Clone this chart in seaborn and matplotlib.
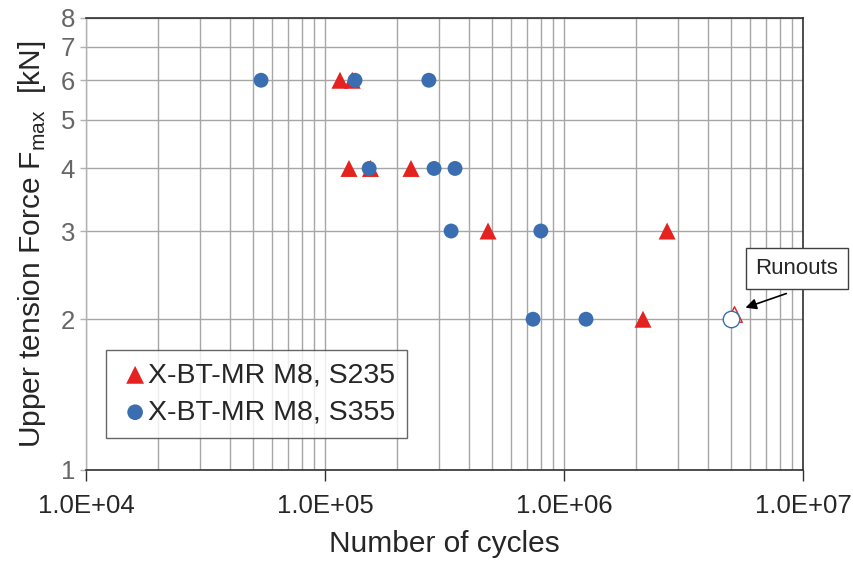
import numpy as np
import pandas as pd
import matplotlib
matplotlib.use('Agg')
import matplotlib.pyplot as plt
import matplotlib.ticker as mticker
import seaborn as sns

# Data
s235_cycles = [1.155e5, 1.30e5, 1.26e5, 1.55e5, 2.29e5, 4.81e5, 2.70e6, 2.14e6]
s235_force = [6, 6, 4, 4, 4, 3, 3, 2]
s355_cycles = [5.4e4, 1.335e5, 2.72e5, 1.53e5, 2.86e5, 3.5e5, 3.37e5, 8.0e5, 7.42e5, 1.236e6]
s355_force = [6, 6, 6, 4, 4, 4, 3, 3, 2, 2]
runout_s235_cycles = [5.13e6]
runout_s235_force = [2.05]
runout_s355_cycles = [5.0e6]
runout_s355_force = [2.0]

y_ticks = [1, 2, 3, 4, 5, 6, 7, 8]

red = '#e42320'
blue = '#3b6eb0'
grid_col = '#a6a6a6'

sns.set_style('white')
plt.rcParams['font.family'] = ['Liberation Sans', 'DejaVu Sans']

df235 = pd.DataFrame({'cycles': s235_cycles, 'force': s235_force})
df355 = pd.DataFrame({'cycles': s355_cycles, 'force': s355_force})

fig = plt.figure(figsize=(8.54, 5.63), dpi=100)
ax = fig.add_axes([0.1007, 0.1652, 0.8396, 0.8034])
ax.set_xscale('log')
ax.set_yscale('log')

sns.scatterplot(data=df235, x='cycles', y='force', marker='^', s=150, color=red,
                edgecolor='none', label='X-BT-MR M8, S235', ax=ax, zorder=3)
sns.scatterplot(data=df355, x='cycles', y='force', marker='o', s=115, color=blue,
                edgecolor='none', label='X-BT-MR M8, S355', ax=ax, zorder=4)

# runouts (open markers)
ax.scatter(runout_s235_cycles, runout_s235_force, marker='^', s=125, facecolor='white',
           edgecolor=red, linewidth=1, zorder=5)
ax.scatter(runout_s355_cycles, runout_s355_force, marker='o', s=140, facecolor='white',
           edgecolor=blue, linewidth=1, zorder=6)

ax.set_xlim(1e4, 1e7)
ax.set_ylim(1, 8)

ax.xaxis.set_major_locator(mticker.LogLocator(base=10))
ax.xaxis.set_minor_locator(mticker.LogLocator(base=10, subs=np.arange(2, 10)))
ax.xaxis.set_major_formatter(mticker.FuncFormatter(lambda v, p: f'{v:.1E}'))
ax.xaxis.set_minor_formatter(mticker.NullFormatter())
ax.yaxis.set_major_locator(mticker.FixedLocator(y_ticks))
ax.yaxis.set_major_formatter(mticker.FixedFormatter([str(t) for t in y_ticks]))
ax.yaxis.set_minor_locator(mticker.NullLocator())

ax.grid(True, which='both', axis='x', color=grid_col, linewidth=1)
ax.grid(True, which='major', axis='y', color=grid_col, linewidth=1)
ax.set_axisbelow(True)

for side in ['top', 'right', 'bottom']:
    ax.spines[side].set_color('#303030')
    ax.spines[side].set_linewidth(1.2)
ax.spines['left'].set_color('#b0b0b0')
ax.spines['left'].set_linewidth(1)

ax.tick_params(axis='x', which='major', direction='out', length=8, width=1,
               color='#303030', labelsize=18.5, labelcolor='#262626', pad=9, bottom=True)
ax.tick_params(axis='x', which='minor', length=0)
ax.tick_params(axis='y', which='major', direction='out', length=4, width=1,
               color='#b0b0b0', labelsize=18.5, labelcolor='#666666', pad=4, left=True)

ax.set_xlabel('Number of cycles', fontsize=21.5, color='#262626', labelpad=9)
ax.set_ylabel('Upper tension Force F$_{\\mathregular{max}}$  [kN]', fontsize=21.5,
              color='#262626', labelpad=9)

leg = ax.legend(loc='lower left', bbox_to_anchor=(0.028, 0.0715), borderaxespad=0,
                fontsize=20.5, frameon=True, fancybox=False, edgecolor='#404040',
                handlelength=1.2, handletextpad=-0.15, labelspacing=0.4,
                borderpad=0.42, markerscale=1.05)
leg.get_frame().set_linewidth(1)
leg.set_zorder(10)

# Runouts callout
ax.text(9.44e6, 2.53, 'Runouts', fontsize=16, color='#262626', ha='center', va='center',
        bbox=dict(boxstyle='square,pad=0.45', facecolor='white', edgecolor='#404040', linewidth=1),
        zorder=12, clip_on=False)
ax.annotate('', xy=(5.6e6, 2.10), xytext=(8.73e6, 2.26),
            arrowprops=dict(arrowstyle='-|>', color='black', lw=1.2, mutation_scale=16),
            zorder=12, annotation_clip=False)

fig.savefig('out.png', dpi=100)
